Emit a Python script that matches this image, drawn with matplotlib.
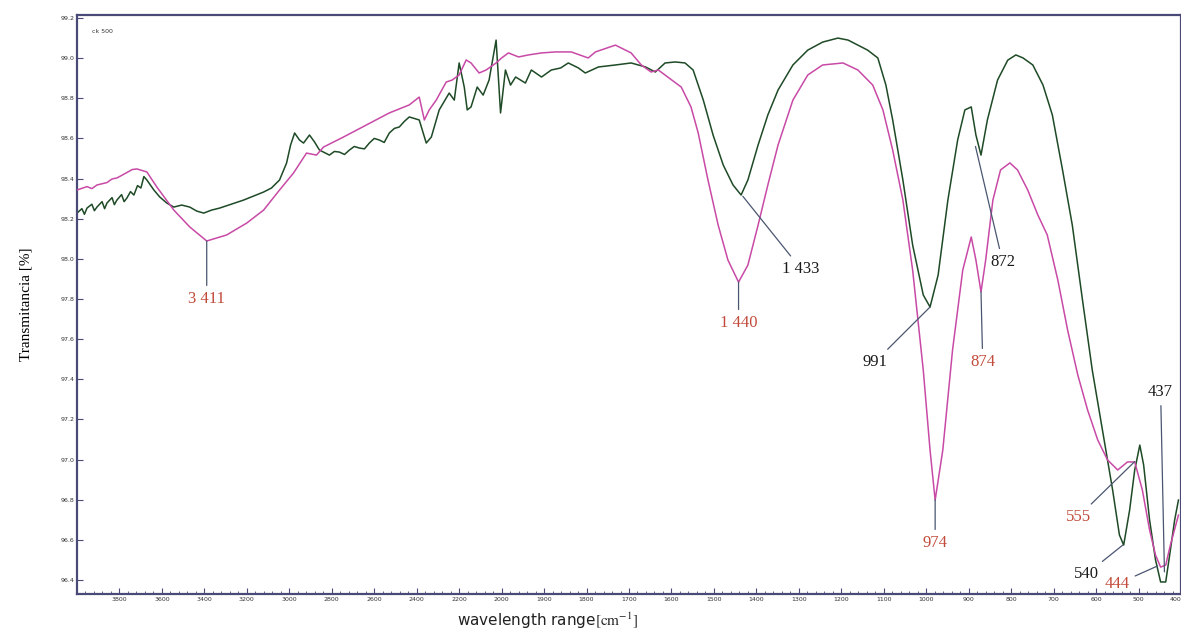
import numpy as np
import matplotlib
matplotlib.use("Agg")
import matplotlib.pyplot as plt
from matplotlib.ticker import FixedLocator, FixedFormatter

# ---------------- data ----------------
# pink (magenta) spectrum
pink_wn = [4000, 3953, 3930, 3906, 3859, 3835, 3812, 3765, 3740, 3718, 3671, 3624,
           3544, 3469, 3389, 3295, 3201, 3121,
           3046, 2980, 2919, 2872, 2839, 2745, 2637, 2529, 2435, 2388, 2364, 2341,
           2308, 2261, 2233, 2200, 2167, 2144, 2106, 2073, 2026, 2000, 1984, 1960,
           1937, 1906, 1873, 1836, 1796, 1779, 1732, 1695, 1671, 1648, 1631, 1577,
           1554, 1537, 1514, 1490, 1467, 1442, 1420, 1396, 1373, 1349, 1314, 1279,
           1244, 1196, 1161, 1126, 1102, 1079, 1055, 1032, 1007, 991, 979, 961,
           938, 914, 894, 883, 871, 860, 843, 825, 803, 785, 761, 737, 715, 690,
           667, 643, 620, 596, 573, 549, 526, 509, 491, 474, 460, 448, 436, 425, 406]
pink_t = [98.343, 98.360, 98.350, 98.368, 98.380, 98.398, 98.403, 98.430, 98.445,
          98.448, 98.433, 98.358, 98.243, 98.159, 98.089,
          98.119, 98.178, 98.243, 98.343, 98.428, 98.527, 98.517, 98.557, 98.607,
          98.667, 98.727, 98.767, 98.806, 98.692, 98.742, 98.791, 98.881, 98.891,
          98.916, 98.991, 98.976, 98.926, 98.941, 98.976, 99.001, 99.026, 99.006,
          99.016, 99.026, 99.031, 99.031, 99.001, 99.031, 99.065, 99.026, 98.966,
          98.931, 98.941, 98.856, 98.757, 98.627, 98.393, 98.168, 97.994, 97.884,
          97.969, 98.168, 98.368, 98.567, 98.791, 98.916, 98.966, 98.976, 98.941,
          98.866, 98.742, 98.542, 98.293, 97.944, 97.446, 97.047, 96.798, 97.047,
          97.546, 97.944, 98.109, 97.994, 97.835, 97.994, 98.293, 98.443, 98.478,
          98.443, 98.343, 98.218, 98.119, 97.894, 97.645, 97.421, 97.247, 97.097,
          96.998, 96.948, 96.988, 96.988, 96.848, 96.649, 96.524, 96.464, 96.474,
          96.574, 96.723]

# dark green spectrum
green_wn = [4000, 3977, 3965, 3953, 3930, 3918, 3906, 3882, 3870, 3859, 3835, 3824,
            3812, 3790, 3778, 3765, 3748, 3732, 3715, 3699, 3685, 3671, 3638, 3610,
            3577, 3544, 3507, 3469, 3436, 3403, 3366, 3328, 3272, 3215, 3168, 3121,
            3084, 3046, 3013, 2994, 2975, 2952, 2933, 2905, 2881, 2858, 2811, 2788,
            2764, 2740, 2717, 2694, 2670, 2646, 2623, 2600, 2576, 2553, 2529, 2505,
            2482, 2458, 2435, 2388, 2355, 2331, 2294, 2247, 2223,
            2200, 2176, 2162, 2144, 2115, 2087, 2059, 2026, 2005, 1991, 1979, 1967,
            1944, 1930, 1906, 1883, 1861, 1843, 1819, 1803, 1772, 1732, 1695, 1661,
            1638, 1615, 1591, 1568, 1549, 1525, 1502, 1478, 1455, 1436, 1420, 1396,
            1373, 1349, 1314, 1279, 1244, 1208, 1184, 1161, 1138, 1114, 1095, 1079,
            1055, 1032, 1007, 991, 972, 949, 926, 909, 894, 883, 871, 856, 832, 808,
            789, 772, 749, 725, 703, 679, 656, 632, 609, 585, 561, 545, 535, 521,
            509, 497, 488, 474, 460, 448, 436, 425, 415, 406]
green_t = [98.228, 98.250, 98.222, 98.253, 98.272, 98.240, 98.258, 98.285, 98.250,
           98.278, 98.305, 98.270, 98.293, 98.320, 98.285, 98.303, 98.335, 98.318,
           98.365, 98.353, 98.410, 98.393, 98.343, 98.308, 98.278, 98.258, 98.268,
           98.258, 98.238, 98.228, 98.243, 98.253, 98.273, 98.293, 98.313, 98.333,
           98.353, 98.393, 98.477, 98.567, 98.627, 98.592, 98.577, 98.617, 98.582,
           98.542, 98.517, 98.535, 98.532, 98.520, 98.542, 98.560, 98.552, 98.548,
           98.577, 98.600, 98.592, 98.580, 98.627, 98.650, 98.657, 98.685, 98.707,
           98.692, 98.577, 98.607,
           98.742, 98.826, 98.791, 98.976, 98.856, 98.742, 98.757, 98.856, 98.816,
           98.891, 99.090, 98.727, 98.941, 98.866, 98.906, 98.876, 98.941, 98.906,
           98.941, 98.951, 98.976, 98.951, 98.926, 98.956, 98.966, 98.976, 98.956,
           98.931, 98.976, 98.981, 98.976, 98.941, 98.791, 98.617, 98.467, 98.368,
           98.318, 98.393, 98.567, 98.717, 98.841, 98.966, 99.040, 99.080, 99.100,
           99.090, 99.065, 99.040, 99.001, 98.866, 98.692, 98.393, 98.069, 97.820,
           97.760, 97.919, 98.293, 98.592, 98.742, 98.757, 98.617, 98.517, 98.692,
           98.891, 98.990, 99.016, 99.001, 98.966, 98.866, 98.717, 98.443, 98.168,
           97.795, 97.446, 97.147, 96.848, 96.624, 96.574, 96.748, 96.948, 97.072,
           96.973, 96.699, 96.500, 96.390, 96.390, 96.549, 96.698, 96.798]

x_ticks = [3800, 3600, 3400, 3200, 3000, 2800, 2600, 2400, 2200, 2000,
           1900, 1800, 1700, 1600, 1500, 1400, 1300, 1200, 1100, 1000,
           900, 800, 700, 600, 500, 400]
y_ticks = [96.4, 96.6, 96.8, 97.0, 97.2, 97.4, 97.6, 97.8, 98.0, 98.2,
           98.4, 98.6, 98.8, 99.0, 99.2]

# peak labels
RED = '#c24a3a'
BLK = '#1a1a1a'
peak_labels = ["3 411", "1 440", "1 433", "991", "974", "872", "874", "555", "540", "444", "437"]
peak_xy = [(3389, 98.089), (1442, 97.884), (1432, 98.312), (991, 97.760), (979, 96.800),
           (884, 98.560), (871, 97.835), (509, 96.990), (537, 96.574), (455, 96.470),
           (439, 96.440)]
label_xy = [(3389, 97.800), (1442, 97.680), (1295, 97.950), (1121, 97.486), (979, 96.584),
            (820, 97.984), (867, 97.486), (642, 96.715), (622, 96.430), (550, 96.380),
            (448, 97.336)]
label_col = [RED, RED, BLK, BLK, RED, BLK, RED, RED, BLK, RED, BLK]

# ---------------- figure ----------------
plt.rcParams['mathtext.fontset'] = 'stix'
fig = plt.figure(figsize=(11.81, 6.33), dpi=100)
ax = fig.add_axes([0.0652, 0.0616, 0.9348, 0.9147])


def fwd(x):
    x = np.asarray(x, dtype=float)
    return np.where(x <= 2000, x / 100.0, 20 + (x - 2000) / 200.0)


def inv(u):
    u = np.asarray(u, dtype=float)
    return np.where(u <= 20, u * 100.0, 2000 + (u - 20) * 200.0)


ax.set_xscale('function', functions=(fwd, inv))
ax.set_xlim(4000, 400)
ax.set_ylim(96.33, 99.215)

ax.plot(pink_wn, pink_t, color='#c84aa6', lw=1.1, zorder=3)
ax.plot(green_wn, green_t, color='#1e4a26', lw=1.1, zorder=2)

ax.xaxis.set_major_locator(FixedLocator(x_ticks))
ax.xaxis.set_major_formatter(FixedFormatter([str(v) for v in x_ticks]))
minor = [v for v in range(4000, 2000, -40)] + [v for v in range(2000, 399, -20)]
ax.xaxis.set_minor_locator(FixedLocator(minor))
ax.yaxis.set_major_locator(FixedLocator(y_ticks))
ax.yaxis.set_major_formatter(FixedFormatter([f"{v:.1f}" for v in y_ticks]))

spine_col = '#4a4a78'
for s in ax.spines.values():
    s.set_color(spine_col)
    s.set_linewidth(1.6)
ax.tick_params(axis='both', which='major', direction='in', length=4, width=0.8,
               colors=spine_col, labelsize=4.5, labelcolor='#333333', pad=2)
ax.tick_params(axis='x', which='minor', direction='in', length=2, width=0.6,
               colors=spine_col)

ax.set_ylabel('Transmitancia [%]', family='Liberation Serif', fontsize=11, labelpad=20)
ax.set_xlabel(r'wavelength range' + r'$[\mathrm{cm}^{-1}]$', fontsize=11, labelpad=6,
              color='#222222')
ax.xaxis.set_label_coords(0.426, -0.028)

ax.text(0.014, 0.972, 'ck 500', transform=ax.transAxes, fontsize=4.5,
        color='#333333', va='center', ha='left')

for lab, xy, txy, col in zip(peak_labels, peak_xy, label_xy, label_col):
    ax.annotate(lab, xy=xy, xytext=txy, ha='center', va='center',
                family='Liberation Serif', fontsize=12, color=col,
                arrowprops=dict(arrowstyle='-', color='#4a5670', lw=0.9,
                                shrinkA=2, shrinkB=0),
                zorder=5, annotation_clip=False)

fig.canvas.draw()
xt = ax.get_xticklabels()
xt[-1].set_horizontalalignment('right')

fig.savefig('out.png', dpi=100)
